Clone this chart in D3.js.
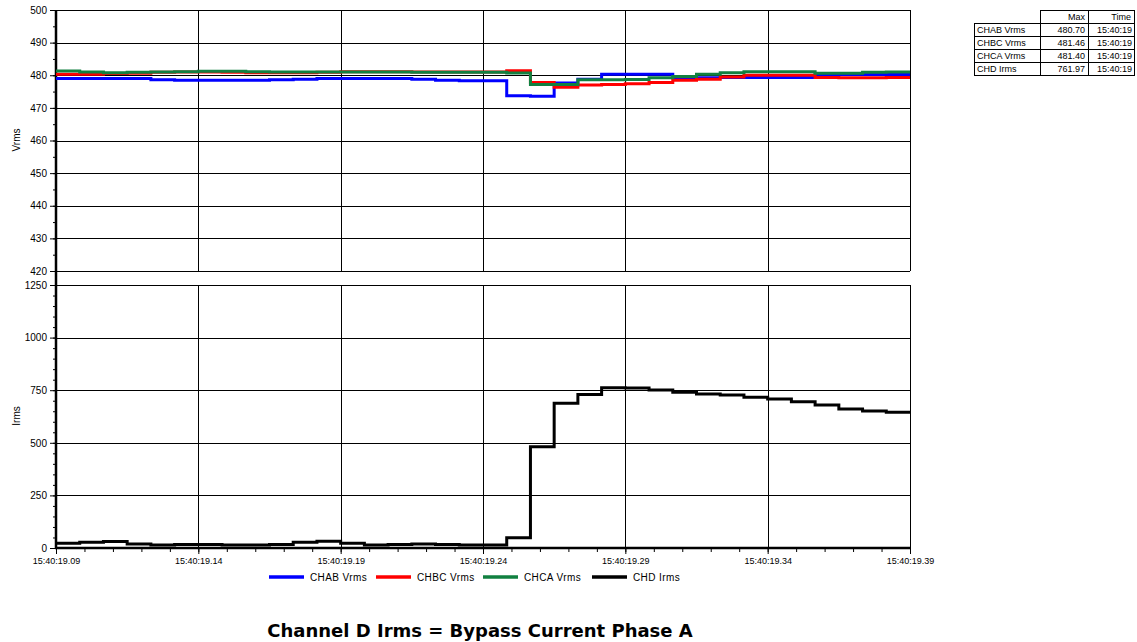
<!DOCTYPE html>
<meta charset="utf-8">
<style>
body { margin: 0; background: #fff; }
svg { display: block; font-family: "Liberation Sans", Arial, sans-serif; }
.grid line { stroke: #000; stroke-width: 1; shape-rendering: crispEdges; }
.axis path, .axis line { stroke: #000; }
.title { font-family: "DejaVu Sans", Verdana, sans-serif; font-weight: bold; font-size: 18px; }
</style>
<script src="https://d3js.org/d3.v7.min.js"></script>
<body>
<svg id="chart" width="1137" height="642"></svg>
<script>

// ---- data (one value per half cycle) ----
var startTime = 19.09;          // seconds after 15:40
var halfCycle = 1 / 120;

var chabVrms = [479.0, 479.0, 479.0, 479.0, 478.6, 478.5, 478.5, 478.5, 478.5, 478.6,
                478.8, 479.0, 479.0, 479.0, 479.0, 478.8, 478.5, 478.3, 478.3, 473.7,
                473.6, 477.6, 478.8, 480.3, 480.3, 480.3, 479.2, 479.2, 479.3, 479.3,
                479.3, 479.3, 480.2, 480.2, 480.2, 480.2];
var chbcVrms = [480.3, 480.3, 480.5, 480.6, 480.9, 481.0, 481.0, 480.9, 480.8, 480.8,
                480.8, 480.9, 481.1, 481.1, 481.1, 481.0, 481.0, 481.0, 481.0, 481.4,
                477.8, 476.3, 477.0, 477.2, 477.4, 477.8, 478.5, 478.8, 479.5, 480.0,
                480.0, 480.0, 479.3, 479.2, 479.2, 479.3];
var chcaVrms = [481.3, 481.0, 480.8, 480.9, 481.0, 481.1, 481.2, 481.2, 481.1, 481.0,
                481.0, 481.0, 481.0, 481.0, 481.0, 480.9, 480.9, 480.9, 480.9, 480.7,
                477.2, 477.2, 478.6, 478.6, 478.7, 479.2, 479.6, 480.3, 480.8, 481.1,
                481.1, 481.1, 480.6, 480.6, 480.9, 481.0];
var chdIrms  = [22, 27, 31, 19, 14, 17, 17, 14, 14, 17,
                27, 32, 22, 14, 17, 19, 17, 14, 14, 49,
                481, 688, 730, 762, 761, 751, 740, 732, 727, 716,
                708, 695, 680, 661, 651, 645];

var xTicks = [19.09, 19.14, 19.19, 19.24, 19.29, 19.34, 19.39];
var vrmsTicks = [420, 430, 440, 450, 460, 470, 480, 490, 500];
var irmsTicks = [0, 250, 500, 750, 1000, 1250];

var seriesNames = ["CHAB Vrms", "CHBC Vrms", "CHCA Vrms", "CHD Irms"];
var seriesColors = ["#0000ff", "#ff0000", "#118040", "#000000"];

var tableHead = ["Max", "Time"];
var tableMax = ["480.70", "481.46", "481.40", "761.97"];
var tableTime = ["15:40:19", "15:40:19", "15:40:19", "15:40:19"];

var titleText = "Channel D Irms = Bypass Current Phase A";

// -------------------------------------

var svg = d3.select("#chart");

var x = d3.scaleLinear().domain([19.09, 19.39]).range([56, 910]);
var yV = d3.scaleLinear().domain([420, 500]).range([271, 10]);
var yI = d3.scaleLinear().domain([0, 1250]).range([548, 285]);

function panelGrid(y, ticks) {
  var g = svg.append("g").attr("class", "grid");
  var top = y.range()[1], bottom = y.range()[0];
  g.selectAll(".h").data(ticks).enter().append("line")
      .attr("x1", x.range()[0]).attr("x2", x.range()[1])
      .attr("y1", function(d) { return Math.round(y(d)) + 0.5; })
      .attr("y2", function(d) { return Math.round(y(d)) + 0.5; });
  g.selectAll(".v").data(xTicks.slice(1)).enter().append("line")
      .attr("y1", top).attr("y2", bottom)
      .attr("x1", function(d) { return Math.round(x(d)) + 0.5; })
      .attr("x2", function(d) { return Math.round(x(d)) + 0.5; });
}
panelGrid(yV, vrmsTicks);
panelGrid(yI, irmsTicks);

// minor ticks
function minorLeft(y, step) {
  var d = y.domain(), vals = [];
  for (var v = d[0]; v <= d[1] + 1e-9; v += step) vals.push(v);
  svg.append("g").attr("class", "axis")
      .attr("transform", "translate(56,0)")
      .call(d3.axisLeft(y).tickValues(vals).tickSize(3).tickFormat(""))
      .call(function(g) { g.select(".domain").remove(); });
}
minorLeft(yV, 5);
minorLeft(yI, 50);

var xMinor = [];
for (var i = 0; i <= 30; i++) xMinor.push(19.09 + i * 0.01);
svg.append("g").attr("class", "axis")
    .attr("transform", "translate(0,548)")
    .call(d3.axisBottom(x).tickValues(xMinor).tickSize(4).tickFormat(""))
    .call(function(g) { g.select(".domain").remove(); });

// major axes
function majorLeft(y, ticks) {
  svg.append("g").attr("class", "axis")
      .attr("transform", "translate(56,0)")
      .call(d3.axisLeft(y).tickValues(ticks).tickSize(6).tickPadding(3).tickFormat(d3.format("d")))
      .call(function(g) {
        g.select(".domain").remove();
        g.selectAll("text").attr("font-size", 10).attr("fill", "#000");
      });
}
majorLeft(yV, vrmsTicks);
majorLeft(yI, irmsTicks);

svg.append("g").attr("class", "axis")
    .attr("transform", "translate(0,548)")
    .call(d3.axisBottom(x).tickValues(xTicks).tickSize(6).tickPadding(4)
      .tickFormat(function(d) { return "15:40:" + d.toFixed(2); }))
    .call(function(g) {
      g.select(".domain").remove();
      g.selectAll("text").attr("font-size", 9).attr("fill", "#000");
    });

// thick axis lines
svg.append("line").attr("x1", 56).attr("x2", 56).attr("y1", 10).attr("y2", 549)
    .attr("stroke", "#000").attr("stroke-width", 2.5);
svg.append("line").attr("x1", 55).attr("x2", 910).attr("y1", 548).attr("y2", 548)
    .attr("stroke", "#000").attr("stroke-width", 2.5);

// axis titles
svg.append("text").attr("transform", "translate(20,140) rotate(-90)")
    .attr("text-anchor", "middle").attr("font-size", 10).text("Vrms");
svg.append("text").attr("transform", "translate(20,416) rotate(-90)")
    .attr("text-anchor", "middle").attr("font-size", 10).text("Irms");

// series
function stepData(values) {
  var pts = values.map(function(v, i) { return { t: startTime + i * halfCycle, v: v }; });
  pts.push({ t: x.domain()[1], v: values[values.length - 1] });
  return pts;
}

function drawSeries(values, y, color) {
  var line = d3.line()
      .x(function(d) { return x(d.t); })
      .y(function(d) { return y(d.v); })
      .curve(d3.curveStepAfter);
  svg.append("path").datum(stepData(values))
      .attr("fill", "none").attr("stroke", color).attr("stroke-width", 3)
      .attr("d", line);
}
drawSeries(chabVrms, yV, seriesColors[0]);
drawSeries(chbcVrms, yV, seriesColors[1]);
drawSeries(chcaVrms, yV, seriesColors[2]);
drawSeries(chdIrms, yI, seriesColors[3]);

// legend
var legendX = [269, 376, 483, 592];
var legend = svg.append("g").selectAll("g").data(seriesNames).enter().append("g")
    .attr("transform", function(d, i) { return "translate(" + legendX[i] + ",577)"; });
legend.append("line").attr("x1", 0).attr("x2", 35)
    .attr("stroke", function(d, i) { return seriesColors[i]; }).attr("stroke-width", 3.5);
legend.append("text").attr("x", 41).attr("dy", "0.35em")
    .attr("font-size", 10).attr("letter-spacing", 0.4).text(function(d) { return d; });

// max table
var tbl = svg.append("g").attr("font-size", 9);
var colX = [974, 1040, 1088, 1134];
var rowY = [10, 23, 36, 49, 62, 75];
tbl.append("rect").attr("x", colX[1] + 0.5).attr("y", rowY[0] + 0.5)
    .attr("width", colX[3] - colX[1]).attr("height", rowY[1] - rowY[0])
    .attr("fill", "none").attr("stroke", "#000");
tbl.append("line").attr("x1", colX[2] + 0.5).attr("x2", colX[2] + 0.5)
    .attr("y1", rowY[0]).attr("y2", rowY[5]).attr("stroke", "#000");
tbl.selectAll("text.h").data(tableHead).enter().append("text")
    .attr("x", function(d, i) { return colX[i + 2] - 3; }).attr("y", rowY[1] - 3)
    .attr("text-anchor", "end").text(function(d) { return d; });
seriesNames.forEach(function(name, r) {
  tbl.append("rect").attr("x", colX[0] + 0.5).attr("y", rowY[r + 1] + 0.5)
      .attr("width", colX[3] - colX[0]).attr("height", rowY[r + 2] - rowY[r + 1])
      .attr("fill", "none").attr("stroke", "#000");
  tbl.append("line").attr("x1", colX[1] + 0.5).attr("x2", colX[1] + 0.5)
      .attr("y1", rowY[r + 1]).attr("y2", rowY[r + 2]).attr("stroke", "#000");
  tbl.append("text").attr("x", colX[0] + 3).attr("y", rowY[r + 2] - 3).text(name);
  tbl.append("text").attr("x", colX[2] - 3).attr("y", rowY[r + 2] - 3)
      .attr("text-anchor", "end").text(tableMax[r]);
  tbl.append("text").attr("x", colX[3] - 2).attr("y", rowY[r + 2] - 3)
      .attr("text-anchor", "end").text(tableTime[r]);
});

// title
svg.append("text").attr("class", "title").attr("x", 480).attr("y", 637)
    .attr("text-anchor", "middle").text(titleText);

</script>
</body>
